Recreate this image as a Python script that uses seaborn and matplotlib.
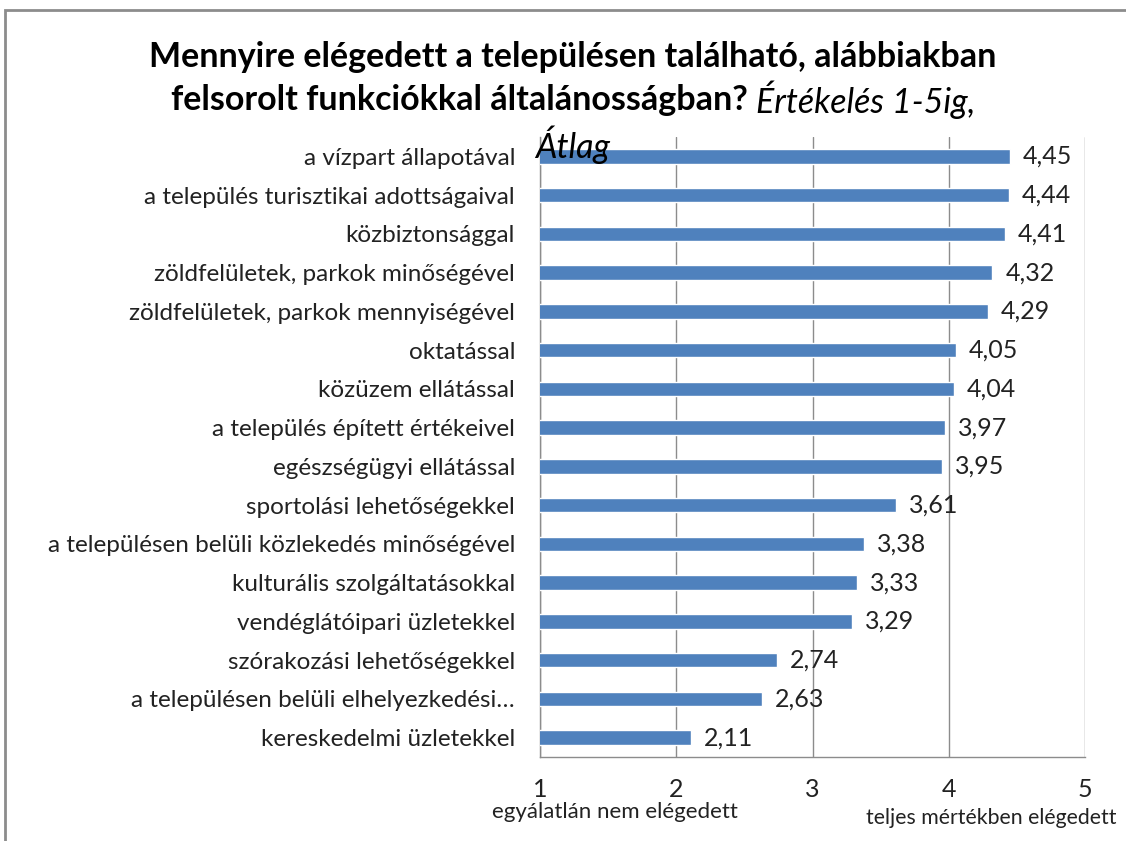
import matplotlib
matplotlib.use("Agg")
import matplotlib.pyplot as plt
import seaborn as sns
import pandas as pd
from matplotlib.patches import Rectangle

categories = [
    "a vízpart állapotával",
    "a település turisztikai adottságaival",
    "közbiztonsággal",
    "zöldfelületek, parkok minőségével",
    "zöldfelületek, parkok mennyiségével",
    "oktatással",
    "közüzem ellátással",
    "a település épített értékeivel",
    "egészségügyi ellátással",
    "sportolási lehetőségekkel",
    "a településen belüli közlekedés minőségével",
    "kulturális szolgáltatásokkal",
    "vendéglátóipari üzletekkel",
    "szórakozási lehetőségekkel",
    "a településen belüli elhelyezkedési…",
    "kereskedelmi üzletekkel",
]
values = [4.45, 4.44, 4.41, 4.32, 4.29, 4.05, 4.04, 3.97, 3.95, 3.61, 3.38, 3.33, 3.29, 2.74, 2.63, 2.11]
xticks = [1, 2, 3, 4, 5]
title_line1 = "Mennyire elégedett a településen található, alábbiakban"
title_line2_bold = "felsorolt funkciókkal általánosságban?"
title_line2_italic = "Értékelés 1-5ig,"
title_line3_italic = "Átlag"
x_left_label = "egyálatlán nem elégedett"
x_right_label = "teljes mértékben elégedett"

sns.set_style("white")
plt.rcParams["font.family"] = ["Lato", "DejaVu Sans"]

df = pd.DataFrame({"cat": categories, "val": values})

fig = plt.figure(figsize=(11.26, 8.41), dpi=100)
ax = fig.add_axes([540/1126, 1-757/841, (1085-540)/1126, (757-137)/841])

sns.barplot(data=df, y="cat", x="val", orient="h", color="#4F81BD", saturation=1,
            width=0.37, ax=ax, zorder=3)

ax.set_xlim(1, 5)
ax.set_ylim(len(categories)-0.5, -0.5)
ax.set_xticks(xticks)
ax.set_xticklabels([str(t) for t in xticks], fontsize=18, color="#222222")
ax.xaxis.grid(True, color="#8c8c8c", linewidth=1, linestyle="-", zorder=0)
ax.yaxis.grid(False)
ax.set_axisbelow(True)
ax.set_xlabel("")
ax.set_ylabel("")

ax.set_yticks(range(len(categories)))
ax.set_yticklabels(categories, fontsize=17.5, color="#222222")
ax.tick_params(axis="y", length=0, pad=18)
ax.set_yticks([i-0.5 for i in range(len(categories)+1)], minor=True)
ax.tick_params(axis="y", which="minor", length=5, color="#8c8c8c", direction="out")
ax.tick_params(axis="x", length=9, color="#8c8c8c", direction="out", pad=6)

for s in ["top", "right"]:
    ax.spines[s].set_visible(False)
for s in ["left", "bottom"]:
    ax.spines[s].set_color("#8c8c8c")
    ax.spines[s].set_linewidth(1)

for i, v in enumerate(values):
    ax.text(v + 0.095, i, f"{v:.2f}".replace(".", ","), va="center", ha="left",
            fontsize=18, color="#222222", zorder=4)

# title
fig.text(573/1126, 1-57/841, title_line1, ha="center", va="center", fontsize=24.5,
         fontweight="bold", color="black")
fig.text(748/1126, 1-100/841, title_line2_bold, ha="right", va="center", fontsize=24.5,
         fontweight="bold", color="black")
fig.text(756/1126, 1-100/841, title_line2_italic, ha="left", va="center", fontsize=24.5,
         fontstyle="italic", color="black")
fig.text(573/1126, 1-145/841, title_line3_italic, ha="center", va="center", fontsize=24.5,
         fontstyle="italic", color="black", zorder=10)

fig.text(615/1126, 1-812/841, x_left_label, ha="center", va="center", fontsize=16, color="#222222")
fig.text(866/1126, 1-818/841, x_right_label, ha="left", va="center", fontsize=15.3, color="#222222")

fig.patches.append(Rectangle((5/1126, -0.05), 1.1, 1-10/841+0.05, transform=fig.transFigure,
                             fill=False, edgecolor="#8c8c8c", linewidth=2, zorder=0))

fig.savefig("out.png", dpi=100, facecolor="white")
